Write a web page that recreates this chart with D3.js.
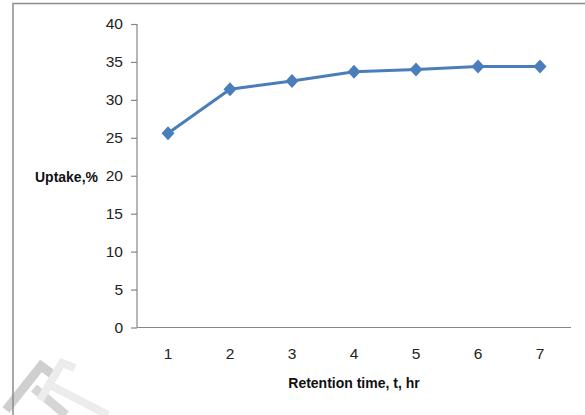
<!DOCTYPE html>
<html lang="en">
<head>
<meta charset="utf-8">
<title>Uptake vs retention time</title>
<script src="https://d3js.org/d3.v7.min.js"></script>
<style>
  html, body { margin: 0; background: #fff; overflow: hidden; }
  svg { display: block; }
  text { font-family: "Liberation Sans Narrow", "Arial Narrow", "Liberation Sans", sans-serif; }
</style>
</head>
<body>
<script>
// chart data
var hours = ["1", "2", "3", "4", "5", "6", "7"];
var uptake = [25.6, 31.4, 32.5, 33.7, 34.0, 34.4, 34.4];
var yTicks = [0, 5, 10, 15, 20, 25, 30, 35, 40];

var width = 585, height = 415;
var plot = {left: 137, right: 571, top: 24, bottom: 327.5};

var svg = d3.select("body").append("svg")
    .attr("width", width)
    .attr("height", height);

// faint watermark in the lower left corner of the scan
var wm = svg.append("g").attr("fill", "none").attr("stroke-linecap", "butt");
wm.append("path").attr("d", "M6,410L41,366L52,374").attr("stroke", "#cfcfcf").attr("stroke-width", 9);
wm.append("path").attr("d", "M34,388L66,415").attr("stroke", "#d6d6d6").attr("stroke-width", 9);
wm.append("path").attr("d", "M40,400L62,363L75,368").attr("stroke", "#ececec").attr("stroke-width", 8);
wm.append("path").attr("d", "M48,384L108,415").attr("stroke", "#ececec").attr("stroke-width", 8);

// outer chart border: only the top and left edges are in frame
svg.append("path")
    .attr("d", "M13,415V3.5H585")
    .attr("fill", "none")
    .attr("stroke", "#8c8c8c")
    .attr("stroke-width", 1.5);

var x = d3.scaleBand().domain(hours).range([plot.left, plot.right]);
var y = d3.scaleLinear().domain([0, 40]).range([plot.bottom, plot.top]);

// y axis
var yAxis = svg.append("g")
    .attr("transform", "translate(" + plot.left + ",0)")
    .call(d3.axisLeft(y).tickValues(yTicks).tickSize(6).tickPadding(8));
yAxis.selectAll("text").attr("font-size", 15.5).attr("fill", "#222").attr("font-family", null);

// x axis with ticks at band edges
var xAxis = svg.append("g")
    .attr("transform", "translate(0," + plot.bottom + ")")
    .call(d3.axisBottom(x).tickSize(0).tickPadding(20));
xAxis.selectAll("text").attr("font-size", 15.5).attr("fill", "#222").attr("font-family", null);
var edges = hours.map(function(d) { return x(d) + x.bandwidth(); });
xAxis.selectAll(".edge")
    .data(edges)
    .enter().append("line")
    .attr("x1", function(d) { return d; })
    .attr("x2", function(d) { return d; })
    .attr("y1", 0).attr("y2", 6);

svg.selectAll(".domain, .tick line, .edge")
    .attr("stroke", "#868686")
    .attr("stroke-width", 1.2);
yAxis.select(".domain").attr("d", "M0," + plot.top + "V" + plot.bottom);
xAxis.select(".domain").attr("d", "M" + plot.left + ",0H" + plot.right);

// axis titles
svg.append("text")
    .attr("x", 98).attr("y", 182)
    .attr("text-anchor", "end")
    .attr("font-weight", "bold")
    .attr("font-size", 14)
    .attr("fill", "#111")
    .text("Uptake,%");

svg.append("text")
    .attr("x", 354).attr("y", 388)
    .attr("text-anchor", "middle")
    .attr("font-weight", "bold")
    .attr("font-size", 14)
    .attr("fill", "#111")
    .text("Retention time, t, hr");

// series line
var cx = function(d, i) { return x(hours[i]) + x.bandwidth() / 2; };
var line = d3.line()
    .x(cx)
    .y(function(d) { return y(d); });

svg.append("path")
    .datum(uptake)
    .attr("d", line)
    .attr("fill", "none")
    .attr("stroke", "#4a7ebb")
    .attr("stroke-width", 3);

svg.selectAll(".marker")
    .data(uptake)
    .enter().append("path")
    .attr("class", "marker")
    .attr("transform", function(d, i) { return "translate(" + cx(d, i) + "," + y(d) + ")"; })
    .attr("d", "M0,-7L6.5,0L0,7L-6.5,0Z")
    .attr("fill", "#4a7ebb");
</script>
</body>
</html>
